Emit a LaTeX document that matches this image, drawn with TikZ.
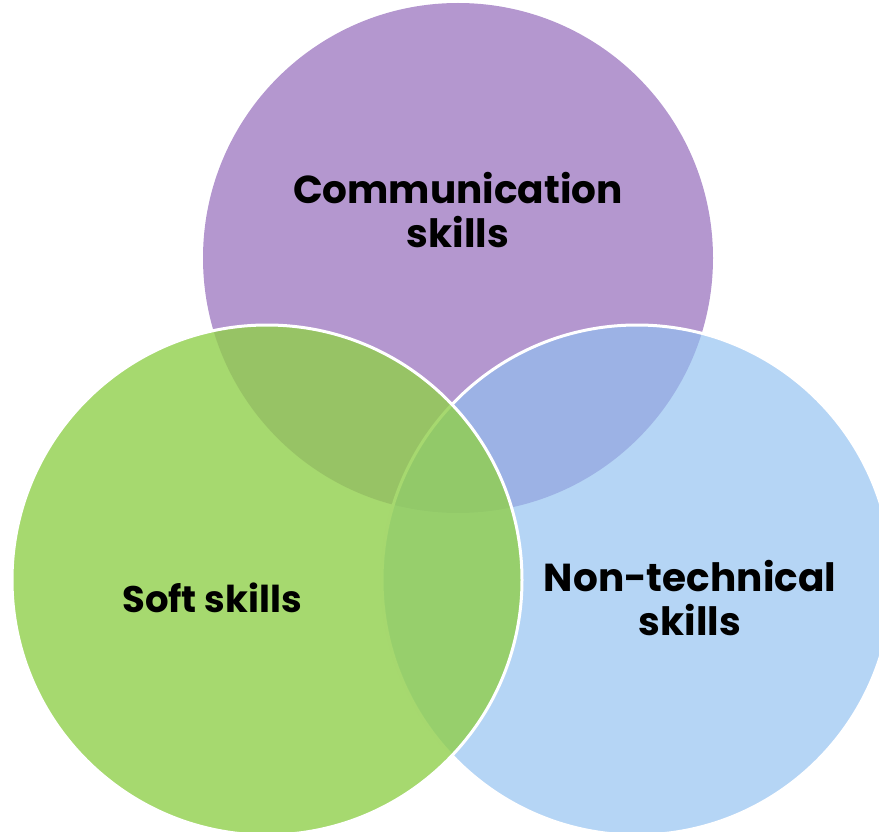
\documentclass[tikz,border=0pt]{standalone}
\usepackage{fontspec}
\setmainfont{Poppins}
\definecolor{cpurple}{RGB}{180,151,207}
\definecolor{cblue}{RGB}{145,192,240}
\definecolor{cgreen}{RGB}{144,207,75}
\tikzset{
  venn/.style={circle, minimum size=510pt, inner sep=0pt, outer sep=0pt},
  vlabel/.style={font=\fontsize{39}{44}\selectfont\bfseries, align=center, text=black}
}
\begin{document}
\begin{tikzpicture}[x=1pt,y=-1pt]
\useasboundingbox (0,0) rectangle (879,832);
\node[venn, fill=cpurple] (comm) at (458,258) {};
\node[venn, fill=cblue, fill opacity=0.67, draw=white, line width=3pt] (nontech) at (637,580) {};
\node[venn, fill=cgreen, fill opacity=0.8, draw=white, line width=3pt] (soft) at (267,580) {};
\node[vlabel] (tcomm) at (458,210) {Communication\\skills};
\node[vlabel, font=\fontsize{37}{44}\selectfont\bfseries] (tsoft) at (212,598) {Soft skills};
\node[vlabel] (tnon) at (690,598) {Non-technical\\skills};
\end{tikzpicture}
\end{document}
